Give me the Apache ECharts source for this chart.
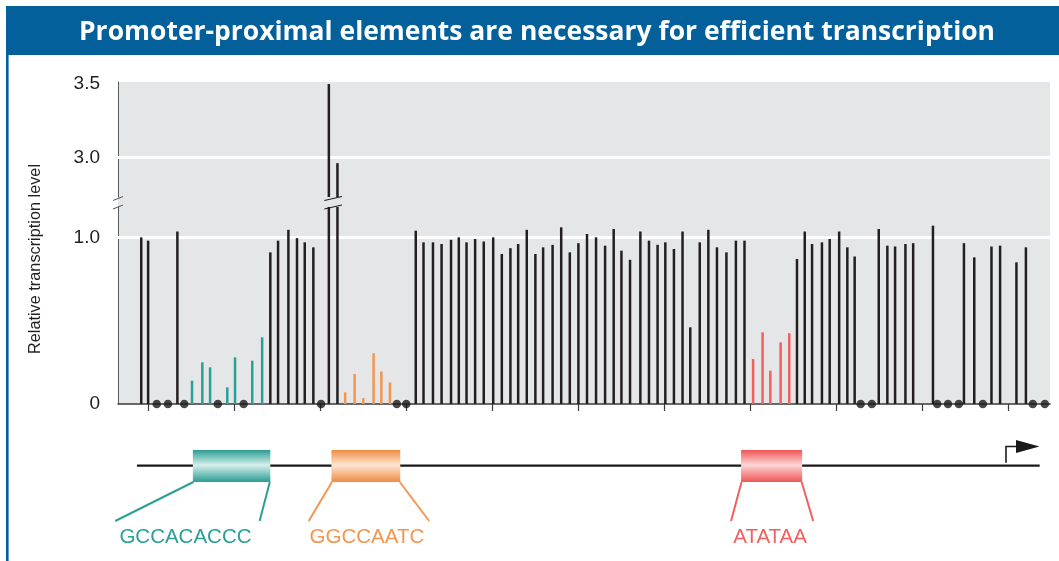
<!DOCTYPE html>
<html><head><meta charset="utf-8">
<script src="https://cdn.jsdelivr.net/npm/echarts@6.0.0/dist/echarts.min.js"></script>
<style>html,body{margin:0;padding:0;background:#fff;} #c{width:1059px;height:561px;}</style>
</head><body><div id="c"></div>
<script>
// ---------------- data ----------------
const title = 'Promoter-proximal elements are necessary for efficient transcription';
const yAxisTitle = 'Relative transcription level';
const upperTicks = [3.0, 3.5];
const lowerTicks = [0, 1.0];
const positionTicks = [-100, -90, -80, -70, -60, -50, -40, -30, -20, -10, 0];
// position of each linker-scanning mutation (bp relative to start site)
const blackPos = [-100.8, -100.0, -96.6, -85.8, -84.9, -83.7, -82.7, -81.8, -80.8, -79.0, -78.0,
  -68.9, -68.0, -66.9, -65.9, -64.8, -63.9, -63.0, -62.0, -61.0, -59.9, -58.9, -57.9, -57.0, -56.0,
  -55.0, -54.1, -53.0, -52.0, -51.0, -50.0, -49.0, -47.95, -46.9, -45.9, -45.0, -44.0, -42.8, -41.8,
  -40.8, -39.9, -38.9, -37.9, -37.0, -35.9, -34.9, -33.9, -32.8, -31.7, -30.7, -24.6, -23.7, -22.85,
  -21.7, -20.8, -19.7, -18.75, -17.9, -15.1, -14.1, -13.2, -12.0, -11.1, -8.8, -5.2, -4.0, -2.0,
  -1.0, 0.9, 2.0];
const blackVal = [1.0, 0.98, 1.035, 0.91, 0.98, 1.045, 0.995, 0.97, 0.94, 3.5, 2.96,
  1.04, 0.97, 0.97, 0.96, 0.985, 1.0, 0.97, 0.99, 0.975, 1.0, 0.9, 0.935, 0.96, 1.045,
  0.9, 0.94, 0.955, 1.06, 0.91, 0.965, 1.02, 1.0, 0.95, 1.05, 0.92, 0.865, 1.035, 0.98,
  0.955, 0.97, 0.93, 1.035, 0.46, 0.97, 1.045, 0.94, 0.91, 0.98, 0.98, 0.87, 1.035, 0.96,
  0.97, 0.99, 1.035, 0.94, 0.885, 1.05, 0.95, 0.945, 0.96, 0.965, 1.07, 0.965, 0.88, 0.945,
  0.95, 0.85, 0.94];
const cacccPos = [-94.9, -93.7, -92.8, -90.8, -89.9, -87.9, -86.75];
const cacccVal = [0.14, 0.25, 0.22, 0.10, 0.28, 0.26, 0.40];
const ccaatPos = [-77.1, -76.0, -75.0, -73.8, -72.9, -71.9];
const ccaatVal = [0.07, 0.18, 0.035, 0.305, 0.195, 0.13];
const tataPos = [-29.7, -28.6, -27.7, -26.5, -25.5];
const tataVal = [0.27, 0.43, 0.20, 0.37, 0.425];
const zeroPos = [-99.0, -97.7, -95.8, -91.9, -88.9, -79.9, -71.1, -70.0, -17.2, -15.9, -8.3,
  -7.05, -5.8, -3.0, 2.8, 4.2];
const elementNames = ['GCCACACCC', 'GGCCAATC', 'ATATAA'];
const elementStart = [-94.8, -78.7, -31.1];
const elementEnd = [-85.8, -70.7, -24.0];
const promoterStart = -101.3, promoterEnd = 3.6, startSite = 0;

// ---------------- styles / layout ----------------
const C_BLACK = '#231f20';
const C_TEAL = '#2aa096', C_ORANGE = '#f29650', C_RED = '#f25f5f';
const elementColors = [C_TEAL, C_ORANGE, C_RED];
const elementDark = ['#2a9d93', '#ef8c43', '#ef5555'];
const elementLight = ['#d6efeb', '#fde6d2', '#fdd5d5'];
const calloutLeft = [-77.6, -22.7, -10];
const calloutRight = [-10.7, 28.9, 11];
const GRAY = '#e5e6e8';
const X_MIN = -103.5, X_MAX = 4.8;
const UP_MIN = 2.729, UP_MAX = 3.514, LO_MIN = 0, LO_MAX = 1.182;
const FONT = 'Liberation Sans, Arial, Helvetica, sans-serif';

const chart = echarts.init(document.getElementById('c'), null, {renderer: 'canvas'});

const lowerData = [];
blackPos.forEach((x, i) => lowerData.push({value: [x, blackVal[i]], itemStyle: {color: C_BLACK}}));
cacccPos.forEach((x, i) => lowerData.push({value: [x, cacccVal[i]], itemStyle: {color: C_TEAL}}));
ccaatPos.forEach((x, i) => lowerData.push({value: [x, ccaatVal[i]], itemStyle: {color: C_ORANGE}}));
tataPos.forEach((x, i) => lowerData.push({value: [x, tataVal[i]], itemStyle: {color: C_RED}}));
const upperData = blackPos.map((x, i) => [x, blackVal[i]]).filter(d => d[1] > UP_MIN);

const yLabel = {fontSize: 19, color: C_BLACK, fontFamily: FONT, margin: 18};
const yLine = {show: true, onZero: false, lineStyle: {color: '#5a5a5a', width: 1}};

chart.setOption({
  animation: false,
  grid: [
    {left: 118, right: 9, top: 82, height: 115},
    {left: 118, right: 9, top: 207, height: 197}
  ],
  xAxis: [
    {gridIndex: 0, type: 'value', min: X_MIN, max: X_MAX, show: false},
    {gridIndex: 1, type: 'value', min: X_MIN, max: X_MAX,
      axisLine: {show: true, onZero: false, lineStyle: {color: '#3a3a3a', width: 1.5}},
      axisTick: {show: true, customValues: positionTicks, length: 7, lineStyle: {color: '#3a3a3a', width: 1.2}},
      axisLabel: {show: false}, splitLine: {show: false}}
  ],
  yAxis: [
    {gridIndex: 0, type: 'value', min: UP_MIN, max: UP_MAX, axisLine: yLine,
      axisTick: {show: false}, splitLine: {show: false},
      axisLabel: Object.assign({customValues: upperTicks, formatter: v => Number(v).toFixed(1)}, yLabel)},
    {gridIndex: 1, type: 'value', min: LO_MIN, max: LO_MAX, axisLine: yLine,
      axisTick: {show: false}, splitLine: {show: false},
      axisLabel: Object.assign({customValues: lowerTicks, formatter: v => Number(v) === 0 ? '0' : Number(v).toFixed(1)}, yLabel)}
  ],
  series: [
    {type: 'line', xAxisIndex: 0, yAxisIndex: 0, data: [], z: 1, silent: true,
      markLine: {z: 1, silent: true, symbol: 'none', label: {show: false},
        lineStyle: {color: '#ffffff', width: 3, type: 'solid'}, data: [{yAxis: upperTicks[0]}]}},
    {type: 'line', xAxisIndex: 1, yAxisIndex: 1, data: [], z: 1, silent: true,
      markLine: {z: 1, silent: true, symbol: 'none', label: {show: false},
        lineStyle: {color: '#ffffff', width: 3, type: 'solid'}, data: [{yAxis: lowerTicks[1]}]}},
    {type: 'bar', xAxisIndex: 0, yAxisIndex: 0, data: upperData, barWidth: 2.5, clip: true, z: 3,
      itemStyle: {color: C_BLACK}},
    {type: 'bar', xAxisIndex: 1, yAxisIndex: 1, data: lowerData, barWidth: 2.5, clip: true, z: 3},
    {type: 'scatter', xAxisIndex: 1, yAxisIndex: 1, data: zeroPos.map(x => [x, 0]), symbol: 'circle',
      symbolSize: 8.5, clip: false, z: 5, itemStyle: {color: '#1a1a1a'}}
  ]
});

// ---------- decorations positioned via the chart's own scales ----------
const P = (g, x, y) => chart.convertToPixel({gridIndex: g}, [x, y]);
const topLeft = P(0, X_MIN, UP_MAX), upBottom = P(0, X_MIN, UP_MIN);
const loTop = P(1, X_MIN, LO_MAX), botRight = P(1, X_MAX, LO_MIN);
const g = [];
// plot background
g.push({type: 'rect', z: -10, silent: true,
  shape: {x: topLeft[0], y: topLeft[1], width: botRight[0] - topLeft[0], height: botRight[1] - topLeft[1]},
  style: {fill: GRAY}});
// banner
g.push({type: 'rect', silent: true, shape: {x: 6, y: 6, width: 1053, height: 49}, style: {fill: '#03609b'}});
g.push({type: 'rect', silent: true, shape: {x: 6, y: 55, width: 2.6, height: 506}, style: {fill: '#03609b'}});
// title text scaled to the banner width
const ctx = document.createElement('canvas').getContext('2d');
ctx.font = '700 27px "Open Sans"';
const tw = ctx.measureText(title).width;
g.push({type: 'text', silent: true, x: 537, y: 32, scaleX: 916 / tw, scaleY: 1,
  style: {text: title, fill: '#ffffff', font: '700 27px "Open Sans"', textAlign: 'center', textVerticalAlign: 'middle'}});
// y axis title
g.push({type: 'text', silent: true, x: 36, y: 259, rotation: Math.PI / 2,
  style: {text: yAxisTitle, fill: C_BLACK, font: '16.3px ' + FONT, textAlign: 'center', textVerticalAlign: 'middle'}});
// break slashes
const slash = (cx, cy, hw, col, lw) => ({type: 'line', silent: true, z: 20,
  shape: {x1: cx - hw, y1: cy + 2, x2: cx + hw, y2: cy - 2}, style: {stroke: col, lineWidth: lw}});
const axX = topLeft[0];
const yb1 = upBottom[1] + 1.5, yb2 = loTop[1];
g.push(slash(axX, yb1, 5, '#555', 1));
g.push(slash(axX, yb2, 5, '#555', 1));
const tall = upperData.map(d => P(0, d[0], d[1])[0]);
if (tall.length) {
  const cx = (tall[0] + tall[tall.length - 1]) / 2;
  const hw = (tall[tall.length - 1] - tall[0]) / 2 + 4.5;
  g.push(slash(cx, yb1, hw, C_BLACK, 1.2));
  g.push(slash(cx, yb2, hw, C_BLACK, 1.2));
}
// promoter diagram
const lineY = 465.7, boxTop = 450, boxH = 32, calloutY = 521, labelY = 537;
g.push({type: 'line', silent: true, z: 1,
  shape: {x1: P(1, promoterStart, 0)[0], y1: lineY, x2: P(1, promoterEnd, 0)[0], y2: lineY},
  style: {stroke: '#1a1a1a', lineWidth: 2.2}});
elementNames.forEach((name, i) => {
  const xl = P(1, elementStart[i], 0)[0], xr = P(1, elementEnd[i], 0)[0];
  g.push({type: 'rect', silent: true, z: 2, shape: {x: xl, y: boxTop, width: xr - xl, height: boxH},
    style: {fill: new echarts.graphic.LinearGradient(0, 0, 0, 1, [
      {offset: 0, color: elementDark[i]}, {offset: 0.47, color: elementLight[i]}, {offset: 1, color: elementDark[i]}])}});
  const lx = xl + calloutLeft[i], rx = xr + calloutRight[i];
  g.push({type: 'line', silent: true, z: 2, shape: {x1: xl + 0.5, y1: boxTop + boxH, x2: lx, y2: calloutY},
    style: {stroke: elementColors[i], lineWidth: 2}});
  g.push({type: 'line', silent: true, z: 2, shape: {x1: xr - 0.5, y1: boxTop + boxH, x2: rx, y2: calloutY},
    style: {stroke: elementColors[i], lineWidth: 2}});
  g.push({type: 'text', silent: true, z: 2, x: (lx + rx) / 2 - 2, y: labelY,
    style: {text: name, fill: elementColors[i], font: '20.5px ' + FONT, textAlign: 'center', textVerticalAlign: 'middle'}});
});
// transcription start arrow
const sx = P(1, startSite, 0)[0] - 2.7;
g.push({type: 'polyline', silent: true, z: 3, shape: {points: [[sx, lineY - 3], [sx, 446.5], [sx + 11, 446.5]]},
  style: {stroke: '#1a1a1a', lineWidth: 1.6, fill: null}});
g.push({type: 'polygon', silent: true, z: 3, shape: {points: [[sx + 10, 440], [sx + 10, 453], [sx + 33.5, 446.5]]},
  style: {fill: '#1a1a1a'}});

chart.setOption({graphic: {elements: g}});
</script>
</body></html>
